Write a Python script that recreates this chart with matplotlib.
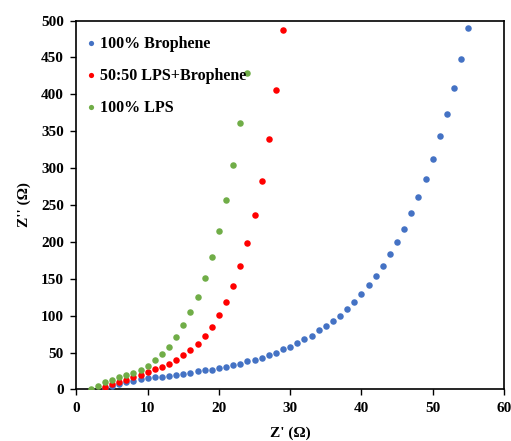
import matplotlib
matplotlib.use("Agg")
import matplotlib.pyplot as plt

plt.rcParams['font.family'] = ['Liberation Serif', 'DejaVu Serif']
plt.rcParams['font.weight'] = 'bold'

x_bro = list(range(4, 56))
y_bro = [2, 4.5, 7, 9.5, 12, 14, 15.5, 16.5, 17, 18.5, 20, 21.5, 23, 24.5, 26, 27,
         29, 31, 33, 35, 38, 40, 43, 47, 50, 55, 58, 63, 68, 73, 80, 86, 93, 100,
         109, 119, 130, 141, 154, 168, 184, 200, 218, 239, 261, 285, 312, 343,
         373, 409, 448, 490]

x_mix = list(range(4, 30))
y_mix = [3, 7, 10, 13.5, 16.5, 20, 24, 27.5, 31, 35, 40, 46.5, 53, 62, 73, 85,
         101, 118, 140, 167, 198, 237, 283, 340, 406, 487]

x_lps = list(range(2, 25))
y_lps = [0, 4.5, 10.5, 13.5, 16.5, 19.5, 22, 26, 32.5, 39.5, 48.5, 58, 71.5, 87,
         104.5, 125, 151, 180, 215, 257, 304, 361, 429]

labels = ['100% Brophene', '50:50 LPS+Brophene', '100% LPS']
colors = ['#4472C4', '#FF0000', '#70AD47']

xticks = [0, 10, 20, 30, 40, 50, 60]
yticks = [0, 50, 100, 150, 200, 250, 300, 350, 400, 450, 500]

fig = plt.figure(figsize=(5.11, 4.41), dpi=100)
ax = fig.add_axes([0.1495, 0.1168, 0.8368, 0.8367])

for xs, ys, lab, c in zip([x_bro, x_mix, x_lps], [y_bro, y_mix, y_lps], labels, colors):
    ax.scatter(xs, ys, s=22, color=c, label=lab, zorder=3, linewidths=0)

ax.set_xlim(0, 60)
ax.set_ylim(0, 500)
ax.set_xticks(xticks)
ax.set_yticks(yticks)
ax.tick_params(direction='out', length=4, width=1, labelsize=11, pad=5)
for lbl in ax.get_xticklabels() + ax.get_yticklabels():
    lbl.set_fontweight('bold')
for sp in ax.spines.values():
    sp.set_linewidth(1.2)
    sp.set_color('black')

ax.set_xlabel("Z' (\u03a9)", fontsize=11, fontweight='bold', labelpad=8)
ax.set_ylabel("Z'' (\u03a9)", fontsize=11, fontweight='bold', labelpad=7)

leg = ax.legend(loc='upper left', bbox_to_anchor=(0.0, 0.985), frameon=False,
                fontsize=11.5, handlelength=0.6, handletextpad=0.3,
                labelspacing=1.0, borderaxespad=0.2, markerscale=0.8)
for t in leg.get_texts():
    t.set_fontweight('bold')

fig.savefig('out.png', dpi=100)
